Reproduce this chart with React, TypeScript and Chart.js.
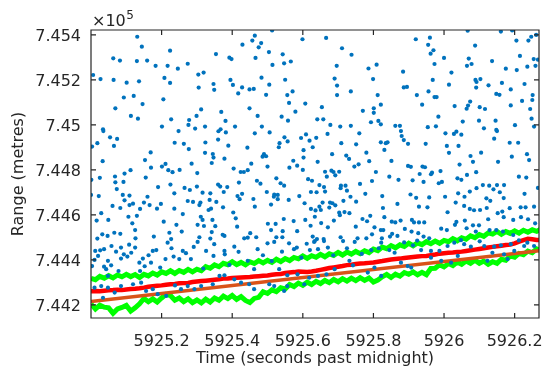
import React, { useEffect, useRef } from 'react';
import { Chart, registerables } from 'chart.js';

Chart.register(...registerables);

const X_MIN = 5925.0;
const X_MAX = 5926.269;
const Y_MIN = 744142;
const Y_MAX = 745422;

const xTicks = [5925.2, 5925.4, 5925.6, 5925.8, 5926, 5926.2];
const xTickLabels = ['5925.2', '5925.4', '5925.6', '5925.8', '5926', '5926.2'];
const yTicks = [744200, 744400, 744600, 744800, 745000, 745200, 745400];
const yTickLabels = ['7.442', '7.444', '7.446', '7.448', '7.45', '7.452', '7.454'];

const xTitle = 'Time (seconds past midnight)';
const yTitle = 'Range (metres)';

// detections: [time (s), range (m)]
const detections: [number, number][] = [
  [5925.131,745392],[5925.144,745348],[5925.224,745330],[5925.063,745296],[5925.082,745286],[5925.130,745284],[5925.159,745286],[5925.354,745315],[5925.392,745299],[5925.398,745293],[5925.183,745263],[5925.217,745263],[5925.274,745272],[5925.246,745250],[5925.006,745222],[5925.027,745204],[5925.064,745200],[5925.101,745188],[5925.136,745194],[5925.208,745209],[5925.224,745187],[5925.304,745224],[5925.319,745233],[5925.347,745182],[5925.349,745156],[5925.305,745166],[5925.395,745200],[5925.402,745178],[5925.093,745122],[5925.121,745129],[5925.146,745093],[5925.205,745114],[5925.069,745074],[5925.312,745069],[5925.369,745058],[5925.113,745040],[5925.133,745028],[5925.227,745025],[5925.278,745022],[5925.299,745040],[5925.381,745018],[5925.034,744981],[5925.201,744993],[5925.276,745000],[5925.295,744984],[5925.323,744993],[5925.367,744981],[5925.408,744993],
  [5925.513,745420],[5925.464,745397],[5925.457,745375],[5925.482,745364],[5925.429,745357],[5925.475,745345],[5925.599,745381],[5925.666,745387],[5925.711,745341],[5925.738,745312],[5925.504,745324],[5925.543,745314],[5925.466,745298],[5925.514,745267],[5925.547,745274],[5925.566,745282],[5925.696,745263],[5925.786,745251],[5925.809,745268],[5925.483,745210],[5925.550,745201],[5925.690,745206],[5925.799,745204],[5925.428,745167],[5925.449,745158],[5925.461,745160],[5925.505,745179],[5925.417,745140],[5925.496,745134],[5925.571,745149],[5925.556,745133],[5925.697,745175],[5925.697,745133],[5925.736,745149],[5925.812,745133],[5925.561,745098],[5925.607,745095],[5925.654,745079],[5925.821,745090],[5925.449,745074],[5925.579,745059],[5925.770,745063],[5925.801,745074],[5925.801,745054],[5925.472,745040],[5925.540,745037],[5925.641,745025],[5925.658,745025],[5925.558,745019],[5925.678,745000],[5925.706,744993],[5925.736,744996],[5925.814,745018],[5925.793,745012],[5925.821,745003],[5925.484,744993],
  [5926.067,745419],[5926.193,745420],[5926.161,745415],[5925.920,745381],[5925.960,745388],[5925.955,745356],[5925.970,745332],[5925.962,745317],[5926.088,745353],[5926.205,745375],[5926.239,745375],[5926.247,745392],[5926.261,745400],[5926.215,745307],[5926.254,745293],[5926.266,745290],[5926.000,745298],[5925.973,745271],[5926.070,745295],[5926.078,745271],[5926.065,745263],[5926.136,745284],[5926.175,745250],[5926.206,745244],[5926.236,745259],[5926.259,745263],[5925.884,745237],[5926.021,745233],[5925.968,745200],[5926.089,745200],[5926.092,745191],[5926.103,745204],[5926.014,745179],[5926.091,745166],[5926.126,745176],[5926.164,745187],[5926.228,745182],[5926.189,745158],[5925.886,745167],[5925.895,745169],[5925.956,745149],[5925.923,745133],[5925.973,745124],[5925.979,745124],[5926.148,745138],[5926.157,745134],[5926.251,745133],[5926.221,745107],[5926.250,745111],[5925.938,745090],[5926.074,745104],[5926.068,745086],[5926.064,745072],[5926.030,745084],[5926.101,745079],[5926.116,745071],[5926.189,745087],[5926.244,745071],[5925.984,745037],[5926.053,745015],[5926.099,745019],[5926.146,745019],[5926.248,745028],[5925.862,744996],[5925.875,744996],[5925.954,744990],[5925.977,744994],[5926.113,744985],[5926.148,744978],[5926.201,744999],[5926.255,744993],
  [5925.035,744973],[5925.054,744945],[5925.074,744938],[5925.065,744907],[5925.018,744919],[5925.003,744904],[5925.248,744973],[5925.361,744972],[5925.382,744967],[5925.360,744935],[5925.237,744921],[5925.263,744916],[5925.324,744922],[5925.389,744908],[5925.277,744893],[5925.169,744878],[5925.323,744876],[5925.345,744871],[5925.347,744855],[5925.378,744850],[5925.033,744839],[5925.153,744844],[5925.342,744831],[5925.211,744827],[5925.201,744815],[5925.170,744810],[5925.285,744828],[5925.219,744799],[5925.231,744790],[5925.251,744800],[5925.404,744806],[5925.301,744786],[5925.112,744799],[5925.095,744784],[5925.068,744771],[5925.025,744765],[5925.001,744756],[5925.155,744766],[5925.069,744745],[5925.092,744747],[5925.225,744735],[5925.190,744724],[5925.265,744720],[5925.280,744711],[5925.300,744726],[5925.360,744735],[5925.366,744726],[5925.386,744724],[5925.073,744715],[5925.236,744696],[5925.316,744699],[5925.338,744696],[5925.376,744702],[5925.000,744689],[5925.022,744684],[5925.090,744689],[5925.109,744686],[5925.160,744681],[5925.095,744665],[5925.274,744662],[5925.289,744658],[5925.310,744655],[5925.336,744667],[5925.355,744658],[5925.119,744650],[5925.109,744644],[5925.150,744655],[5925.166,744644],[5925.198,744649],[5925.187,744628],[5925.236,744628],[5925.307,744644],[5925.333,744622],[5925.340,744628],[5925.374,744634],[5925.061,744640],[5925.083,744631],[5925.139,744627],[5925.029,744608],[5925.403,744611],[5925.410,744585],[5925.016,744575],[5925.049,744578],[5925.106,744592],[5925.130,744596],[5925.311,744592],[5925.316,744578],[5925.344,744578],[5925.206,744570],[5925.260,744604],[5925.117,744563],[5925.242,744556],[5925.302,744556],[5925.320,744551],[5925.352,744550],[5925.125,744533],[5925.222,744521],[5925.257,744526],[5925.342,744524],[5925.373,744512],[5925.032,744514],[5925.047,744507],[5925.066,744521],[5925.083,744516],[5925.126,744496],[5925.178,744504],[5925.227,744493],[5925.307,744501],[5925.338,744495],[5925.378,744507],[5925.018,744495],
  [5925.464,744963],[5925.506,744967],[5925.548,744945],[5925.557,744927],[5925.595,744942],[5925.609,744958],[5925.619,744930],[5925.638,744943],[5925.670,744960],[5925.760,744963],[5925.709,744919],[5925.751,744914],[5925.821,744923],[5925.835,744919],[5925.534,744919],[5925.532,744901],[5925.443,744899],[5925.628,744901],[5925.602,744888],[5925.831,744889],[5925.490,744870],[5925.486,744859],[5925.496,744861],[5925.683,744870],[5925.723,744864],[5925.731,744849],[5925.780,744877],[5925.602,744855],[5925.573,744841],[5925.642,744836],[5925.454,744828],[5925.584,744819],[5925.562,744810],[5925.500,744815],[5925.758,744825],[5925.746,744815],[5925.788,744839],[5925.424,744791],[5925.433,744791],[5925.444,744799],[5925.600,744800],[5925.663,744792],[5925.681,744797],[5925.687,744791],[5925.703,744792],[5925.807,744791],[5925.525,744763],[5925.615,744759],[5925.626,744752],[5925.668,744770],[5925.692,744776],[5925.470,744752],[5925.480,744739],[5925.419,744744],[5925.537,744741],[5925.547,744730],[5925.647,744733],[5925.660,744724],[5925.708,744730],[5925.707,744719],[5925.721,744730],[5925.725,744708],[5925.762,744738],[5925.796,744751],[5925.498,744702],[5925.519,744690],[5925.529,744689],[5925.623,744702],[5925.639,744701],[5925.663,744704],[5925.735,744681],[5925.777,744694],[5925.825,744684],[5925.428,744694],[5925.415,744684],[5925.421,744670],[5925.460,744671],[5925.518,744681],[5925.529,744670],[5925.560,744667],[5925.590,744684],[5925.715,744663],[5925.751,744659],[5925.827,744631],[5925.464,744637],[5925.510,744646],[5925.605,744652],[5925.623,744627],[5925.647,744637],[5925.656,744655],[5925.677,744655],[5925.675,744633],[5925.684,744652],[5925.692,744643],[5925.703,744610],[5925.718,744613],[5925.732,744608],[5925.636,744620],[5925.651,744622],[5925.414,744548],[5925.501,744561],[5925.523,744560],[5925.546,744582],[5925.574,744573],[5925.607,744578],[5925.622,744552],[5925.634,744592],[5925.652,744564],[5925.671,744545],[5925.688,744575],[5925.705,744599],[5925.750,744548],[5925.769,744582],[5925.782,744572],[5925.791,744596],[5925.803,744545],[5925.831,744590],[5925.821,744533],[5925.510,744533],[5925.543,744528],[5925.584,744528],[5925.434,744496],[5925.444,744499],[5925.451,744519],[5925.468,744501],[5925.525,744501],[5925.542,744501],[5925.628,744504],[5925.640,744493],[5925.659,744493],[5925.707,744501],[5925.755,744496],[5925.780,744496],[5925.796,744514],[5925.824,744496],
  [5925.878,744973],[5925.880,744951],[5925.886,744933],[5925.898,744916],[5925.840,744923],[5926.004,744963],[5926.028,744960],[5926.035,744970],[5926.049,744957],[5925.948,744916],[5926.008,744907],[5926.041,744907],[5926.014,744876],[5926.075,744862],[5926.105,744877],[5926.142,744939],[5926.150,744973],[5926.186,744921],[5926.210,744921],[5926.235,744870],[5926.241,744844],[5926.192,744859],[5926.153,744836],[5926.082,744836],[5926.044,744824],[5925.898,744818],[5925.906,744814],[5925.939,744815],[5925.946,744812],[5925.851,744840],[5925.990,744795],[5925.966,744788],[5925.963,744781],[5925.931,744782],[5925.911,744754],[5925.845,744770],[5925.871,744756],[5925.942,744747],[5925.985,744741],[5925.994,744747],[5926.038,744763],[5926.049,744756],[5926.065,744778],[5926.091,744790],[5926.233,744766],[5926.266,744720],[5926.212,744770],[5926.150,744733],[5926.170,744733],[5926.128,744730],[5926.140,744714],[5926.110,744733],[5926.092,744719],[5926.073,744704],[5926.040,744696],[5926.058,744681],[5926.120,744674],[5926.131,744663],[5926.158,744701],[5926.169,744675],[5926.228,744694],[5925.905,744691],[5925.921,744676],[5925.958,744678],[5925.868,744649],[5925.929,744637],[5925.953,744634],[5926.003,744681],[5926.033,744655],[5926.057,744640],[5926.073,744627],[5926.085,744621],[5926.102,744622],[5926.121,744631],[5926.152,744608],[5926.165,744615],[5926.186,744630],[5926.217,744634],[5926.231,744634],[5926.255,744637],[5926.010,744612],[5925.852,744570],[5925.862,744567],[5925.877,744575],[5925.909,744578],[5925.915,744567],[5925.929,744567],[5925.944,744567],[5926.031,744556],[5926.035,744569],[5926.059,744575],[5926.082,744554],[5926.099,744554],[5926.125,744581],[5926.129,744533],[5926.148,744533],[5926.169,744590],[5926.196,744578],[5926.218,744590],[5926.258,744563],[5926.238,744581],[5925.828,744533],[5925.889,744538],[5925.908,744526],[5925.927,744519],[5925.942,744504],[5925.958,744496],[5925.853,744516],[5925.868,744507],[5925.847,744504],[5925.992,744539],[5926.008,744533],[5926.064,744541],[5926.090,744526],[5926.196,744511],[5926.167,744526],
  [5925.012,744440],[5925.026,744443],[5925.037,744448],[5925.020,744418],[5925.010,744400],[5925.003,744373],[5925.037,744370],[5925.048,744396],[5925.057,744376],[5925.043,744359],[5925.085,744455],[5925.093,744425],[5925.103,744415],[5925.085,744406],[5925.114,744432],[5925.125,744455],[5925.137,744388],[5925.147,744406],[5925.163,744421],[5925.175,744440],[5925.185,744444],[5925.170,744388],[5925.078,744351],[5925.139,744351],[5925.211,744404],[5925.234,744415],[5925.260,744440],[5925.269,744430],[5925.283,744404],[5925.250,744404],[5925.217,744477],[5925.302,744480],[5925.326,744440],[5925.347,744418],[5925.349,744470],[5925.378,744440],[5925.379,744425],[5925.406,744459],[5925.472,744448],[5925.500,744474],[5925.519,744480],[5925.561,744474],[5925.575,744448],[5925.583,744455],[5925.620,744444],[5925.632,744480],[5925.444,744396],[5925.462,744359],[5925.533,744359],[5925.048,744329],[5925.029,744284],[5925.048,744277],[5925.010,744277],[5925.034,744232],[5925.067,744255],[5925.085,744284],[5925.119,744292],[5925.142,744299],[5925.156,744262],[5925.175,744270],[5925.189,744248],[5925.213,744240],[5925.238,744287],[5925.255,744270],[5925.274,744284],[5925.293,744270],[5925.312,744284],[5925.345,744292],[5925.364,744329],[5925.378,744332],[5925.406,744314],[5925.425,744299],[5925.448,744292],[5925.462,744270],[5925.505,744292],[5925.519,744284],[5925.547,744262],[5925.556,744284],[5925.604,744292],[5925.618,744321],[5925.585,744336],[5925.556,744332],
  [5925.634,744484],[5925.660,744484],[5925.643,744448],[5925.671,744455],[5925.714,744484],[5925.747,744480],[5925.822,744477],[5925.794,744444],[5925.845,744444],[5925.860,744432],[5925.912,744465],[5925.935,744444],[5925.963,744440],[5925.987,744440],[5926.010,744462],[5926.029,744477],[5926.057,744470],[5926.076,744459],[5926.114,744462],[5926.142,744459],[5926.161,744465],[5926.189,744470],[5926.236,744477],[5926.255,744462],[5925.732,744396],[5925.742,744376],[5925.690,744359],[5925.667,744336],[5925.643,744329],[5925.803,744366],[5925.878,744388],[5925.897,744373],[5925.907,744366],[5925.963,744410],[5925.992,744396],[5926.020,744388],[5926.039,744418],[5926.123,744396],[5926.137,744432],[5926.170,744425],[5926.199,744440],[5926.227,744462],[5926.180,744404],[5925.784,744344],[5925.822,744329],
  [5925.058,744462],[5925.071,744437],[5925.108,744468],[5925.152,744372],[5925.196,744366],[5925.228,744452],[5925.291,744458],[5925.318,744362],[5925.392,744378],[5925.418,744436],[5925.487,744421],[5925.512,744395],[5925.541,744437],[5925.596,744410],[5925.611,744472],[5925.686,744421],[5925.725,744452],[5925.767,744427],[5925.815,744452],[5925.887,744478],[5925.924,744486],[5926.048,744488],[5926.101,744483],[5926.212,744487],
];

const trackTime = [
  5925.0000, 5925.0125, 5925.0250, 5925.0375, 5925.0500, 5925.0625, 5925.0750, 5925.0875, 5925.1000, 5925.1125,
  5925.1250, 5925.1375, 5925.1500, 5925.1625, 5925.1750, 5925.1875, 5925.2000, 5925.2125, 5925.2250, 5925.2375,
  5925.2500, 5925.2625, 5925.2750, 5925.2875, 5925.3000, 5925.3125, 5925.3250, 5925.3375, 5925.3500, 5925.3625,
  5925.3750, 5925.3875, 5925.4000, 5925.4125, 5925.4250, 5925.4375, 5925.4500, 5925.4625, 5925.4750, 5925.4875,
  5925.5000, 5925.5125, 5925.5250, 5925.5375, 5925.5500, 5925.5625, 5925.5750, 5925.5875, 5925.6000, 5925.6125,
  5925.6250, 5925.6375, 5925.6500, 5925.6625, 5925.6750, 5925.6875, 5925.7000, 5925.7125, 5925.7250, 5925.7375,
  5925.7500, 5925.7625, 5925.7750, 5925.7875, 5925.8000, 5925.8125, 5925.8250, 5925.8375, 5925.8500, 5925.8625,
  5925.8750, 5925.8875, 5925.9000, 5925.9125, 5925.9250, 5925.9375, 5925.9500, 5925.9625, 5925.9750, 5925.9875,
  5926.0000, 5926.0125, 5926.0250, 5926.0375, 5926.0500, 5926.0625, 5926.0750, 5926.0875, 5926.1000, 5926.1125,
  5926.1250, 5926.1375, 5926.1500, 5926.1625, 5926.1750, 5926.1875, 5926.2000, 5926.2125, 5926.2250, 5926.2375,
  5926.2500, 5926.2625, 5926.2750,
];

const upperGate = [
  744318, 744312, 744327, 744319, 744330, 744320, 744333, 744325, 744336, 744326,
  744335, 744322, 744336, 744329, 744342, 744333, 744347, 744340, 744352, 744340,
  744353, 744345, 744358, 744347, 744359, 744352, 744370, 744363, 744378, 744370,
  744385, 744379, 744392, 744379, 744389, 744378, 744392, 744384, 744397, 744387,
  744398, 744389, 744403, 744393, 744406, 744397, 744411, 744405, 744418, 744407,
  744419, 744412, 744425, 744414, 744427, 744420, 744433, 744422, 744435, 744426,
  744438, 744428, 744441, 744433, 744448, 744441, 744457, 744450, 744464, 744454,
  744467, 744460, 744474, 744463, 744476, 744468, 744481, 744472, 744484, 744474,
  744487, 744481, 744495, 744485, 744499, 744492, 744507, 744499, 744513, 744505,
  744520, 744515, 744527, 744514, 744526, 744518, 744529, 744519, 744532, 744523,
  744534, 744527, 744538,
];

const lowerGate = [
  744204, 744182, 744199, 744190, 744187, 744163, 744182, 744189, 744198, 744173,
  744187, 744205, 744229, 744214, 744227, 744213, 744231, 744247, 744242, 744221,
  744231, 744215, 744227, 744210, 744222, 744209, 744226, 744213, 744231, 744221,
  744239, 744228, 744242, 744225, 744237, 744220, 744211, 744229, 744234, 744259,
  744251, 744267, 744259, 744276, 744271, 744291, 744282, 744297, 744287, 744301,
  744291, 744305, 744295, 744309, 744299, 744313, 744303, 744317, 744306, 744319,
  744308, 744321, 744309, 744320, 744302, 744311, 744325, 744336, 744322, 744337,
  744328, 744344, 744336, 744347, 744334, 744345, 744334, 744362, 744363, 744379,
  744369, 744384, 744375, 744391, 744381, 744395, 744385, 744399, 744385, 744395,
  744381, 744392, 744385, 744403, 744399, 744418, 744412, 744429, 744423, 744439,
  744432, 744449, 744441,
];

const trackEstimate = [
  744261, 744262, 744261, 744263, 744265, 744266, 744268, 744266, 744269, 744271,
  744272, 744274, 744277, 744281, 744283, 744285, 744287, 744290, 744292, 744293,
  744296, 744297, 744298, 744302, 744304, 744306, 744308, 744310, 744312, 744314,
  744317, 744318, 744320, 744321, 744322, 744323, 744324, 744326, 744328, 744330,
  744331, 744334, 744336, 744338, 744342, 744344, 744346, 744349, 744348, 744347,
  744349, 744352, 744356, 744360, 744364, 744367, 744370, 744373, 744377, 744379,
  744382, 744384, 744385, 744387, 744389, 744392, 744395, 744399, 744402, 744404,
  744406, 744409, 744411, 744413, 744415, 744417, 744418, 744421, 744424, 744428,
  744430, 744432, 744433, 744435, 744437, 744440, 744443, 744446, 744449, 744452,
  744455, 744458, 744461, 744463, 744466, 744468, 744474, 744481, 744488, 744494,
  744492, 744489, 744489,
];

const fitTime = [5925.0, 5926.27];
const fitRange = [744215, 744441];

const TEXT = '#262626';
const FONT = '"DejaVu Sans", sans-serif';

const boxPlugin = {
  id: 'matlabBox',
  afterDraw(chart: any) {
    const { ctx, chartArea: a, scales } = chart;
    ctx.save();
    ctx.strokeStyle = TEXT;
    ctx.lineWidth = 1.2;
    ctx.beginPath();
    ctx.rect(a.left, a.top, a.right - a.left, a.bottom - a.top);
    ctx.stroke();
    const tl = 5;
    ctx.beginPath();
    xTicks.forEach((v) => {
      const px = scales.x.getPixelForValue(v);
      ctx.moveTo(px, a.bottom); ctx.lineTo(px, a.bottom - tl);
      ctx.moveTo(px, a.top); ctx.lineTo(px, a.top + tl);
    });
    yTicks.forEach((v) => {
      const py = scales.y.getPixelForValue(v);
      ctx.moveTo(a.left, py); ctx.lineTo(a.left + tl, py);
      ctx.moveTo(a.right, py); ctx.lineTo(a.right - tl, py);
    });
    ctx.stroke();
    ctx.fillStyle = TEXT;
    ctx.textBaseline = 'alphabetic';
    ctx.textAlign = 'left';
    ctx.font = '16px ' + FONT;
    const base = '\u00d710';
    ctx.fillText(base, a.left + 1, 26);
    const w = ctx.measureText(base).width;
    ctx.font = '12px ' + FONT;
    ctx.fillText('5', a.left + 1 + w + 0.5, 19);
    ctx.restore();
  },
};

export default function App() {
  const canvasRef = useRef<HTMLCanvasElement | null>(null);

  useEffect(() => {
    document.body.style.margin = '0';
    const canvas = canvasRef.current;
    if (!canvas) return;
    const line = (ys: number[], color: string, width: number) => ({
      type: 'line' as const,
      data: trackTime.map((t, i) => ({ x: t, y: ys[i] })),
      borderColor: color,
      backgroundColor: color,
      borderWidth: width,
      pointRadius: 0,
      showLine: true,
      tension: 0,
      fill: false,
      clip: 0,
    });
    const chart = new Chart(canvas, {
      type: 'scatter',
      data: {
        datasets: [
          {
            data: detections.map(([x, y]) => ({ x, y })),
            backgroundColor: '#0072BD',
            borderWidth: 0,
            pointRadius: 2.1,
            showLine: false,
            clip: 0,
          } as any,
          line(trackEstimate, '#FF0000', 4.5),
          {
            type: 'line',
            data: fitTime.map((t, i) => ({ x: t, y: fitRange[i] })),
            borderColor: '#D95319',
            borderWidth: 3.5,
            pointRadius: 0,
            showLine: true,
            fill: false,
            clip: 0,
          } as any,
          line(upperGate, '#00FF00', 5),
          line(lowerGate, '#00FF00', 5),
        ],
      },
      options: {
        animation: false,
        responsive: false,
        devicePixelRatio: 1,
        layout: { padding: { top: 30, right: 3, left: 0, bottom: 0 } },
        plugins: { legend: { display: false }, tooltip: { enabled: false } },
        scales: {
          x: {
            type: 'linear',
            min: X_MIN,
            max: X_MAX,
            grid: { display: false, drawTicks: false },
            border: { display: false },
            afterBuildTicks: (s: any) => { s.ticks = xTicks.map((v) => ({ value: v })); },
            afterFit: (s: any) => { s.height = 53; s.paddingLeft = 0; s.paddingRight = 0; },
            ticks: {
              autoSkip: false,
              maxRotation: 0,
              padding: 14,
              color: TEXT,
              font: { family: FONT, size: 16 },
              callback: (v: any) => { const i = xTicks.indexOf(Number(v)); return i >= 0 ? xTickLabels[i] : ''; },
            },
            title: { display: true, text: xTitle, color: TEXT, font: { family: FONT, size: 16 }, padding: { top: 0, bottom: 3 } },
          },
          y: {
            type: 'linear',
            min: Y_MIN,
            max: Y_MAX,
            grid: { display: false, drawTicks: false },
            border: { display: false },
            afterBuildTicks: (s: any) => { s.ticks = yTicks.map((v) => ({ value: v })); },
            afterFit: (s: any) => { s.width = 91; s.paddingTop = 0; s.paddingBottom = 0; },
            ticks: {
              autoSkip: false,
              padding: 10,
              labelOffset: 2,
              color: TEXT,
              font: { family: FONT, size: 16 },
              callback: (v: any) => { const i = yTicks.indexOf(Number(v)); return i >= 0 ? yTickLabels[i] : ''; },
            },
            title: { display: true, text: yTitle, color: TEXT, font: { family: FONT, size: 16 }, padding: { top: 9, bottom: 0 } },
          },
        },
      } as any,
      plugins: [boxPlugin],
    });
    return () => chart.destroy();
  }, []);

  return (
    <div style={{ width: 543, height: 371 }}>
      <canvas ref={canvasRef} width={543} height={371} style={{ display: 'block' }} />
    </div>
  );
}
